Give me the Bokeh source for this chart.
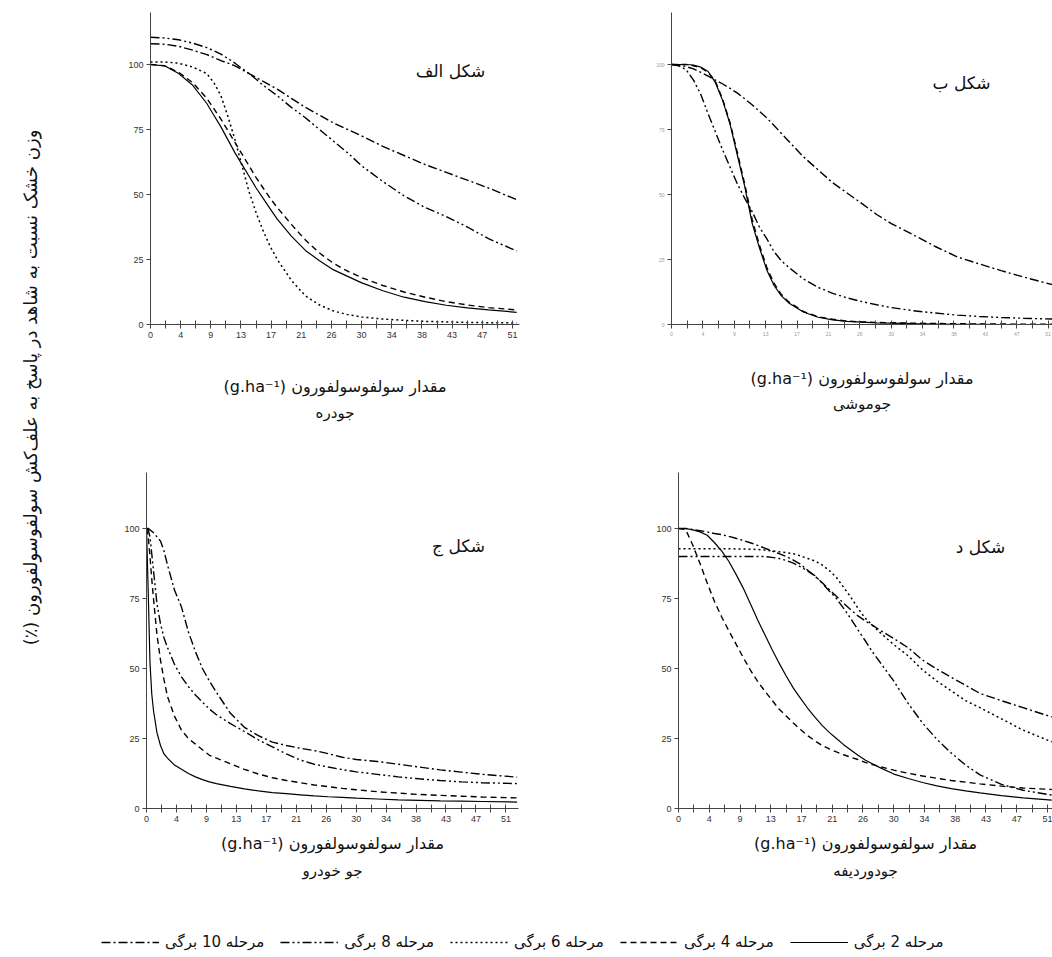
import math
from bokeh.plotting import figure
from bokeh.layouts import row, column
from bokeh.models import FixedTicker, Label, Legend, LegendItem, LinearAxis
from bokeh.embed import file_html
from bokeh.resources import INLINE

# ---------------- data ----------------
x_tick_pos = [0, 4.28, 8.57, 12.85, 17.13, 21.42, 25.7, 29.98, 34.27, 38.55, 42.83, 47.12, 51.4]
x_tick_labels = ["0", "4", "9", "13", "17", "21", "26", "30", "34", "38", "43", "47", "51"]
x_minor_pos = [2.14, 6.43, 10.71, 14.99, 19.28, 23.56, 27.84, 32.13, 36.41, 40.69, 44.98, 49.26, 53.54]
y_tick_pos = [0, 25, 50, 75, 100]

stages = [2, 4, 6, 8, 10]
stage_names = {2: "مرحله 2 برگی", 4: "مرحله 4 برگی", 6: "مرحله 6 برگی",
               8: "مرحله 8 برگی", 10: "مرحله 10 برگی"}

# Panel A (جودره)
tl_dose = [0, 2, 4, 6, 8, 9, 10, 11, 12, 13, 14, 15, 16, 17, 18, 20, 22, 24, 26, 28, 30, 33, 36, 39, 42, 45, 48, 52]
tl_s2 = [100, 99.5, 96.5, 92, 85, 80.5, 76, 71, 66, 61.5, 57, 52.5, 48.5, 44.5, 40.5, 34, 28.5, 24.5, 21, 18.5, 16, 13, 10.5, 8.8, 7.4, 6.4, 5.6, 4.7]
tl_s4 = [100, 99.5, 97, 93, 87, 83, 79, 74.5, 70, 65.5, 61, 56.5, 52.5, 48.5, 45, 38.5, 32.5, 27.5, 23.5, 20.5, 18, 15, 12.5, 10.5, 8.8, 7.5, 6.5, 5.6]
tl_s6 = [101, 101, 100.5, 99, 96.5, 93, 88, 80, 71, 61, 51, 43, 36, 30, 25, 17, 11, 7.5, 5.2, 3.8, 2.9, 2.1, 1.6, 1.2, 1, 0.8, 0.7, 0.6]
tl_s8 = [110.5, 110.2, 109.5, 108.2, 106.5, 105.3, 104, 102.3, 100.5, 98.5, 96.5, 94.3, 92, 90, 88, 83.5, 79.5, 75, 70.5, 66, 61, 55, 49.5, 45, 41.5, 37.5, 33, 28.3]
tl_s10 = [108, 107.8, 107, 105.5, 103.8, 102.7, 101.5, 100.5, 99.5, 98, 96.5, 95, 93.5, 92, 90.5, 87, 83.5, 80.5, 77.5, 75, 72.5, 68.5, 65, 61.5, 58.5, 55.5, 52.5, 48]

# Panel B (جوموشی)
tr_dose = [0, 1, 2, 3, 4, 5, 6, 7, 8, 9, 10, 11, 12, 13, 14, 15, 16, 18, 20, 22, 24, 26, 28, 30, 33, 36, 39, 42, 45, 48, 52]
tr_s2 = [100, 100, 100, 99.8, 99, 97.3, 93, 86, 77, 65, 53, 39, 29.5, 21, 15, 11, 8.3, 4.8, 2.8, 1.8, 1.2, 0.9, 0.6, 0.5, 0.3, 0.2, 0.1, 0.1, 0, 0, 0]
tr_s4 = [100, 100, 100, 99.5, 98.8, 97, 93.5, 86.5, 77.5, 66, 54, 40.5, 30.5, 22, 15.8, 11.5, 8.7, 5, 3, 2, 1.3, 1, 0.8, 0.7, 0.5, 0.4, 0.3, 0.2, 0.2, 0.1, 0.1]
tr_s8 = [100, 99.5, 98, 94, 88.5, 81, 74, 67, 60.5, 54, 48.5, 43.5, 37.5, 33, 28, 24.5, 22, 17.5, 14.3, 12, 10.2, 8.8, 7.6, 6.5, 5.3, 4.4, 3.6, 3.1, 2.7, 2.4, 2.1]
tr_s10 = [100, 99.8, 99.2, 98.3, 97, 95.5, 94, 92.5, 90.8, 89, 86.8, 84.5, 82, 79.5, 76.5, 73.5, 70.5, 64.5, 59.5, 54.5, 50.5, 46.5, 42.3, 38.8, 34.5, 30, 26, 23.3, 20.7, 18.3, 15.3]

# Panel C (جو خودرو)
bl_dose = [0, 0.25, 0.5, 0.75, 1, 1.5, 2, 2.5, 3, 4, 5, 6, 7, 8, 9, 10, 12, 14, 16, 18, 20, 22, 24, 26, 28, 30, 33, 36, 39, 42, 45, 48, 53]
bl_s2 = [100, 77, 52, 41, 35, 27, 22.5, 19.5, 18, 15.5, 14, 12.5, 11.3, 10.3, 9.5, 8.9, 7.9, 7, 6.3, 5.7, 5.3, 4.9, 4.5, 4.2, 4, 3.7, 3.4, 3.1, 2.9, 2.7, 2.6, 2.5, 2.3]
bl_s4 = [100, 97, 90, 82, 75, 62, 53, 46, 40, 33, 28, 25, 23, 21, 19, 18, 16, 14, 12.3, 11, 10, 9.2, 8.4, 7.8, 7.2, 6.7, 6, 5.5, 5, 4.7, 4.4, 4.1, 3.8]
bl_s8 = [100, 99.5, 97, 91, 85, 73, 66, 61, 57.5, 51.5, 47, 43.5, 40.5, 38, 35.5, 33.5, 30.3, 27.5, 24.5, 22, 19.5, 17.3, 15.8, 14.8, 13.9, 13.1, 12.2, 11.3, 10.6, 10, 9.5, 9.2, 8.9]
bl_s10 = [100, 100, 99.5, 99, 98.5, 97, 95.5, 92, 87, 78, 72, 63, 56, 50, 45.5, 41.5, 34, 29, 26, 23.7, 22.5, 21.5, 20.7, 19.6, 18.3, 17.5, 16.8, 15.8, 14.8, 13.8, 13, 12.2, 11.2]

# Panel D (جودوردیفه)
br_dose = [0, 1, 2, 3, 4, 5, 6, 7, 8, 9, 10, 11, 12, 13, 14, 15, 16, 17, 18, 19, 20, 21, 22, 23, 24, 25, 26, 27, 28, 30, 32, 34, 36, 38, 40, 42, 45, 48, 52]
br_s2 = [100, 100, 99.5, 98.8, 97.6, 95, 92, 88.3, 83.7, 78.8, 73.2, 67.5, 62.2, 57, 52, 47.3, 43, 39.3, 35.8, 32.6, 29.7, 27.2, 25, 22.8, 20.9, 19, 17.3, 16, 14.7, 12.3, 10.7, 9.3, 8.1, 7.1, 6.3, 5.6, 4.6, 3.8, 3]
br_s4 = [100, 99.6, 94, 87.5, 80.5, 74, 68.5, 63.5, 58.8, 54, 49.5, 45.5, 42, 38.8, 35.5, 33, 30.5, 28.2, 26, 24.2, 22.5, 21.3, 20.2, 19.2, 18.3, 17.5, 16.5, 15.7, 15, 13.7, 12.6, 11.6, 10.8, 10, 9.4, 8.8, 8, 7.3, 6.8]
br_s6 = [92.8, 92.8, 92.8, 92.8, 92.8, 92.8, 92.8, 92.8, 92.7, 92.7, 92.6, 92.5, 92.3, 92, 91.7, 91.4, 91, 90.2, 89.3, 88.4, 87, 85, 82.5, 79, 75.5, 71.5, 68, 65.5, 63, 58.5, 54.5, 49.5, 45.5, 42, 38.5, 36, 32, 28, 23.8]
br_s8 = [90, 90, 90, 90, 90, 90, 90, 90, 90, 90, 90, 90, 90, 89.7, 89.3, 88.6, 87.6, 86.3, 84.8, 83.2, 80.5, 77.7, 75, 71.5, 67.8, 63.8, 60, 56, 52.5, 45.5, 37.5, 30.5, 24.7, 19.8, 15.5, 12, 8.6, 6.5, 4.8]
br_s10 = [100, 100, 99.6, 99.2, 98.8, 98.2, 97.8, 97.2, 96.5, 95.7, 94.9, 94, 93, 92, 91, 90, 88.7, 87.2, 85.1, 83, 80.7, 78.2, 75.8, 73.3, 71, 68.8, 67, 65.5, 63.8, 60.7, 57.4, 53, 49.8, 46.8, 44, 41.1, 38.5, 36, 32.7]

panel_titles = ["شکل الف", "شکل ب", "شکل ج", "شکل د"]
species = ["جودره", "جوموشی", "جو خودرو", "جودوردیفه"]
x_title = "(g.ha⁻¹) مقدار سولفوسولفورون"
y_title = "وزن خشک نسبت به شاهد در پاسخ به علف‌کش سولفوسولفورون (٪)\u200f"

# ---------------- styles ----------------
stage_dash = {2: "solid", 4: "6 4", 6: "2 3", 8: "9 3 2 3 2 3", 10: "9 3 2 3"}
stage_width = {2: 1.2, 4: 1.4, 6: 1.5, 8: 1.4, 10: 1.4}
FA_FONT = "DejaVu Sans"
TICK_FONT = "Liberation Sans"


def make_panel(width, height, bl, br, bt, bb, x_end, tick_size, tick_color,
               dose, series, title, title_xy, spec, xl_standoff, sp_standoff):
    p = figure(width=width, height=height, x_range=(0, x_end), y_range=(0, 120),
               toolbar_location=None, output_backend="svg",
               min_border_left=bl, min_border_right=br, min_border_top=bt,
               min_border_bottom=bb, outline_line_color=None)
    p.grid.visible = False
    xa = p.xaxis[0]
    xa.ticker = FixedTicker(ticks=x_tick_pos, minor_ticks=x_minor_pos)
    xa.major_label_overrides = dict(zip(x_tick_pos, x_tick_labels))
    xa.major_tick_in = 4
    xa.major_tick_out = 4
    xa.minor_tick_in = 4
    xa.minor_tick_out = 4
    xa.major_label_standoff = 3
    xa.axis_label = x_title
    xa.axis_label_standoff = xl_standoff
    xa.axis_label_text_font = FA_FONT
    xa.axis_label_text_font_size = "16px"
    xa.axis_label_text_font_style = "normal"
    xa.axis_label_text_color = "#111111"
    ya = p.yaxis[0]
    ya.ticker = FixedTicker(ticks=y_tick_pos, minor_ticks=[])
    ya.major_tick_in = 0
    ya.major_tick_out = 4
    ya.major_label_standoff = 3
    for ax in (xa, ya):
        ax.axis_line_color = "#444444"
        ax.major_tick_line_color = "#444444"
        ax.minor_tick_line_color = "#444444"
        ax.major_label_text_font = TICK_FONT
        ax.major_label_text_font_size = tick_size
        ax.major_label_text_color = tick_color
    sa = LinearAxis(ticker=FixedTicker(ticks=[], minor_ticks=[]), axis_label=spec,
                    axis_line_color=None, major_tick_line_color=None,
                    minor_tick_line_color=None, major_tick_out=0, minor_tick_out=0,
                    major_tick_in=0, minor_tick_in=0, major_label_standoff=0,
                    axis_label_standoff=sp_standoff, axis_label_text_font=FA_FONT,
                    axis_label_text_font_size="15px", axis_label_text_font_style="normal",
                    axis_label_text_color="#111111")
    p.add_layout(sa, "below")
    for st, ys in series:
        p.line(dose, ys, line_color="black", line_width=stage_width[st],
               line_dash=stage_dash[st])
    p.add_layout(Label(x=title_xy[0], y=title_xy[1], x_units="screen", y_units="screen",
                       text=title, text_font=FA_FONT, text_font_size="17px",
                       text_align="center", text_baseline="middle", text_color="#111111"))
    return p


tl = make_panel(540, 440, 90, 81, 12, 116, 52.4, "9px", "#333333", tl_dose,
                [(2, tl_s2), (4, tl_s4), (6, tl_s6), (8, tl_s8), (10, tl_s10)],
                panel_titles[0], (300, 254), species[0], 36, 5)
tr = make_panel(452, 440, 71, 0, 12, 116, 52.0, "5px", "#999999", tr_dose,
                [(2, tr_s2), (4, tr_s4), (8, tr_s8), (10, tr_s10)],
                panel_titles[1], (290, 242), species[1], 30, 4)
bl = make_panel(540, 480, 86, 82, 32, 112, 53.2, "9px", "#333333", bl_dose,
                [(2, bl_s2), (4, bl_s4), (8, bl_s8), (10, bl_s10)],
                panel_titles[2], (312, 263), species[2], 9, 6)
br = make_panel(452, 480, 78, 0, 32, 112, 52.1, "9px", "#333333", br_dose,
                [(2, br_s2), (4, br_s4), (6, br_s6), (8, br_s8), (10, br_s10)],
                panel_titles[3], (302, 262), species[3], 9, 6)

# y-axis title strip
strip = figure(width=60, height=957, x_range=(0, 1), y_range=(0, 1),
               toolbar_location=None, output_backend="svg", min_border=0,
               outline_line_color=None, x_axis_location=None, y_axis_location=None)
strip.grid.visible = False
strip.add_layout(Label(x=30, y=957 - 387, x_units="screen", y_units="screen",
                       text=y_title, angle=math.pi / 2, text_font=FA_FONT,
                       text_font_size="18px", text_align="center",
                       text_baseline="middle", text_color="#111111"))

# legend strip (dummy renderers lie outside the visible range; only the legend shows)
leg = figure(width=992, height=37, x_range=(0, 1), y_range=(0, 1),
             toolbar_location=None, output_backend="svg", min_border=0,
             outline_line_color=None, x_axis_location=None, y_axis_location=None)
leg.grid.visible = False
dummy_x = [5, 6]
dummy_y = [5, 6]
items = []
for st in [10, 8, 6, 4, 2]:
    r = leg.line(x=dummy_x, y=dummy_y, line_color="black", line_width=stage_width[st],
                 line_dash=stage_dash[st])
    items.append(LegendItem(label=stage_names[st], renderers=[r]))
legend = Legend(items=items, orientation="horizontal", location=(41, 6),
                glyph_width=58, glyph_height=14, label_standoff=6, spacing=16,
                padding=0, margin=0, border_line_color=None,
                background_fill_alpha=0, label_text_font=FA_FONT,
                label_text_font_size="15px", label_text_color="#111111")
leg.add_layout(legend)

layout = row(strip, column(row(tl, tr), row(bl, br), leg))

open("out.html", "w").write(file_html(layout, INLINE))
